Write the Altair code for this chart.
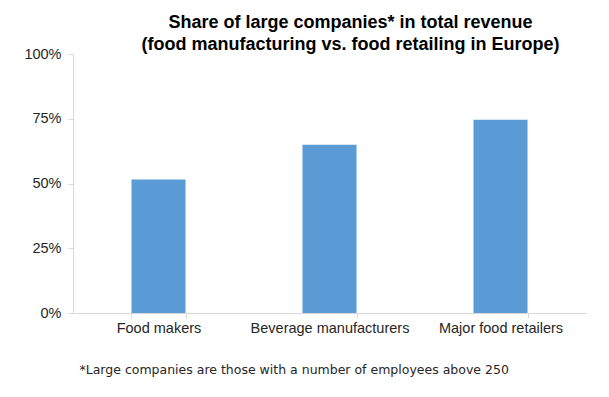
import altair as alt
import pandas as pd

categories = ["Food makers", "Beverage manufacturers", "Major food retailers"]
shares = [0.515, 0.65, 0.746]
title_lines = ["Share of large companies* in total revenue",
               "(food manufacturing vs. food retailing in Europe)"]
footnote = "*Large companies are those with a number of employees above 250"
y_ticks = [0, 0.25, 0.5, 0.75, 1.0]

df = pd.DataFrame({"category": categories, "share": shares})

chart = alt.Chart(df).mark_bar(color="#5B9BD5").encode(
    x=alt.X("category:N", sort=categories,
            scale=alt.Scale(paddingInner=0.684, paddingOuter=0.342),
            axis=alt.Axis(title=footnote, labelAngle=0, tickBand="extent",
                          labelFont="Liberation Sans", labelFontSize=14.5,
                          labelColor="#262626", labelPadding=3,
                          tickSize=5, tickColor="#d9d9d9", domainColor="#d9d9d9",
                          titleFont="DejaVu Sans", titleFontSize=12.5,
                          titleFontWeight="normal", titleColor="#262626",
                          titleX=6, titleY=56, titleAlign="left",
                          titleBaseline="middle")),
    y=alt.Y("share:Q", scale=alt.Scale(domain=[0, 1]),
            axis=alt.Axis(title=None, format=".0%", values=y_ticks, grid=False,
                          labelFont="Liberation Sans", labelFontSize=14.5,
                          labelColor="#262626", labelPadding=7,
                          tickSize=5, tickColor="#d9d9d9", domainColor="#d9d9d9")),
).properties(
    width=513, height=259,
    title=alt.TitleParams(text=title_lines, font="Liberation Sans", fontSize=18,
                          fontWeight="bold", color="#000000", anchor="middle",
                          dx=21, offset=-8, lineHeight=22),
    autosize=alt.AutoSizeParams(type="none"),
    padding={"left": 65, "top": 46, "right": 15, "bottom": 76},
).configure_view(stroke=None)

chart.save("out.html", embed_options={"renderer": "svg", "actions": False})
